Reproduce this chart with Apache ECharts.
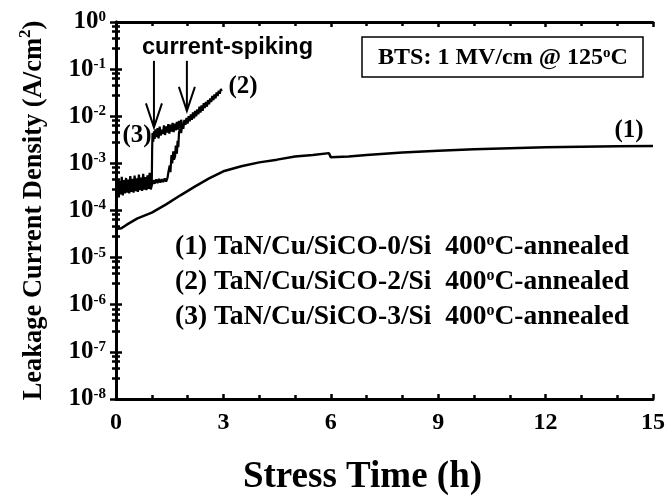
<!DOCTYPE html>
<html>
<head>
<meta charset="utf-8">
<script src="https://cdn.jsdelivr.net/npm/echarts@6/dist/echarts.min.js"></script>
<style>
html,body{margin:0;padding:0;background:#fff;}
#c{width:669px;height:501px;}
</style>
</head>
<body>
<div id="c"></div>
<script>
// ---- data (time in h, current density in A/cm^2) ----
var xTicks = [0, 3, 6, 9, 12, 15];
var yTickExps = [0, -1, -2, -3, -4, -5, -6, -7, -8];

var t1 = [0.05, 0.15, 0.3, 0.6, 1.0, 1.4, 1.8, 2.2, 2.6, 3.0, 3.5, 4.0, 4.5, 5.0, 5.5, 5.95, 6.0, 6.5, 7.0, 8.0, 9.0, 10.0, 11.0, 12.0, 13.0, 14.0, 15.0];
var j1 = [4.1e-5, 4.2e-5, 5.0e-5, 6.8e-5, 9.0e-5, 1.35e-4, 2.1e-4, 3.2e-4, 4.8e-4, 6.8e-4, 8.7e-4, 1.05e-3, 1.2e-3, 1.4e-3, 1.5e-3, 1.65e-3, 1.35e-3, 1.4e-3, 1.5e-3, 1.7e-3, 1.85e-3, 2.0e-3, 2.1e-3, 2.2e-3, 2.25e-3, 2.3e-3, 2.35e-3];

var t2 = [0.00, 0.02, 0.04, 0.06, 0.08, 0.10, 0.13, 0.16, 0.19, 0.22, 0.25, 0.28, 0.31, 0.34, 0.37, 0.40, 0.43, 0.46, 0.49, 0.52, 0.55, 0.58, 0.61, 0.64, 0.67, 0.70, 0.73, 0.76, 0.79, 0.82, 0.85, 0.88, 0.91, 0.94, 0.97, 1.00, 1.04, 1.08, 1.12, 1.16, 1.20, 1.24, 1.28, 1.32, 1.36, 1.40, 1.44, 1.47, 1.50, 1.52, 1.55, 1.57, 1.60, 1.62, 1.65, 1.67, 1.70, 1.72, 1.74, 1.76, 1.79, 1.82, 1.85, 1.88, 1.91, 1.94, 1.97, 2.00, 2.03, 2.06, 2.09, 2.12, 2.15, 2.18, 2.21, 2.24, 2.27, 2.30, 2.33, 2.36, 2.39, 2.42, 2.45, 2.48, 2.51, 2.54, 2.57, 2.60, 2.63, 2.66, 2.69, 2.72, 2.75, 2.78, 2.81, 2.84, 2.87, 2.90, 2.93, 2.95];
var j2 = [1.5e-4, 3.8e-4, 2.0e-4, 3.3e-4, 1.9e-4, 3.6e-4, 2.2e-4, 3.1e-4, 2.1e-4, 3.5e-4, 2.3e-4, 3.4e-4, 2.4e-4, 3.7e-4, 2.3e-4, 3.3e-4, 2.5e-4, 3.8e-4, 2.4e-4, 3.5e-4, 2.6e-4, 3.9e-4, 2.5e-4, 3.6e-4, 2.7e-4, 4.0e-4, 2.6e-4, 3.7e-4, 2.8e-4, 4.1e-4, 2.7e-4, 3.8e-4, 2.9e-4, 4.0e-4, 2.8e-4, 3.4e-4, 4.4e-4, 3.7e-4, 4.6e-4, 3.8e-4, 4.7e-4, 3.9e-4, 4.6e-4, 4.0e-4, 4.8e-4, 4.1e-4, 5.0e-4, 7.0e-4, 9.0e-4, 6.5e-4, 1.5e-3, 1.0e-3, 1.8e-3, 1.2e-3, 1.4e-3, 2.4e-3, 1.6e-3, 3.0e-3, 2.2e-3, 4.5e-3, 5.5e-3, 4.4e-3, 6.8e-3, 5.4e-3, 8.4e-3, 6.6e-3, 9.2e-3, 7.0e-3, 1.0e-2, 7.8e-3, 1.1e-2, 8.4e-3, 1.2e-2, 9.0e-3, 1.3e-2, 1.0e-2, 1.4e-2, 1.1e-2, 1.6e-2, 1.2e-2, 1.7e-2, 1.3e-2, 1.9e-2, 1.5e-2, 2.0e-2, 1.6e-2, 2.2e-2, 1.8e-2, 2.4e-2, 2.0e-2, 2.7e-2, 2.2e-2, 2.9e-2, 2.4e-2, 3.2e-2, 2.7e-2, 3.5e-2, 3.0e-2, 3.8e-2, 3.4e-2];

var t3 = [0.00, 0.02, 0.04, 0.06, 0.08, 0.10, 0.13, 0.16, 0.19, 0.22, 0.25, 0.28, 0.31, 0.34, 0.37, 0.40, 0.43, 0.46, 0.49, 0.52, 0.55, 0.58, 0.61, 0.64, 0.67, 0.70, 0.73, 0.76, 0.79, 0.82, 0.85, 0.88, 0.91, 0.94, 0.97, 1.00, 1.01, 1.02, 1.04, 1.06, 1.08, 1.10, 1.13, 1.16, 1.19, 1.22, 1.25, 1.28, 1.31, 1.34, 1.37, 1.40, 1.43, 1.46, 1.49, 1.52, 1.55, 1.58, 1.61, 1.64, 1.67, 1.70, 1.73, 1.76, 1.79, 1.82, 1.85];
var j3 = [1.2e-4, 5.0e-4, 2.4e-4, 4.6e-4, 2.2e-4, 4.2e-4, 2.6e-4, 5.2e-4, 2.5e-4, 4.4e-4, 2.8e-4, 4.9e-4, 2.7e-4, 4.5e-4, 3.0e-4, 5.4e-4, 2.9e-4, 4.7e-4, 3.1e-4, 5.5e-4, 3.0e-4, 4.8e-4, 3.2e-4, 5.8e-4, 3.1e-4, 5.0e-4, 3.3e-4, 6.0e-4, 3.2e-4, 5.1e-4, 3.4e-4, 5.6e-4, 3.5e-4, 6.3e-4, 3.6e-4, 4.5e-4, 2.0e-3, 4.4e-3, 2.9e-3, 4.8e-3, 3.3e-3, 5.3e-3, 3.6e-3, 5.6e-3, 3.4e-3, 6.0e-3, 3.9e-3, 5.2e-3, 4.2e-3, 6.4e-3, 4.0e-3, 6.1e-3, 4.5e-3, 6.8e-3, 4.3e-3, 6.6e-3, 4.7e-3, 7.2e-3, 4.6e-3, 7.0e-3, 5.0e-3, 7.6e-3, 5.2e-3, 8.0e-3, 5.6e-3, 8.4e-3, 6.4e-3];

// arrows: [time, from J, to J]
var arrowX = [1.06, 1.98];
var arrowFrom = [0.15, 0.15];
var arrowTo = [5.8e-3, 1.3e-2];

var seriesLabels = ['(1)', '(2)', '(3)'];
var legendLines = [
  ['(1) TaN/Cu/SiCO-0/Si  400', 'C-annealed'],
  ['(2) TaN/Cu/SiCO-2/Si  400', 'C-annealed'],
  ['(3) TaN/Cu/SiCO-3/Si  400', 'C-annealed']
];
var spikeText = 'current-spiking';
var btsText = ['BTS: 1 MV/cm @ 125', 'C'];

// ---- chart ----
function pairs(t, j) { return t.map(function (v, i) { return [v, j[i]]; }); }
var SERIF = '"Liberation Serif", "Times New Roman", serif';
var SANS = '"Liberation Sans", Arial, sans-serif';

var chart = echarts.init(document.getElementById('c'), null, {renderer: 'canvas'});

var axisLine = {show: true, lineStyle: {color: '#000', width: 3}};
var tickStyle = {color: '#000', width: 2.5};

var option = {
  animation: false,
  backgroundColor: '#fff',
  grid: {left: 116, right: 16, top: 22, bottom: 100, containLabel: false},
  xAxis: [{
    type: 'value', min: 0, max: 15, interval: 3,
    axisLine: axisLine,
    axisTick: {show: true, inside: true, length: 5, lineStyle: tickStyle},
    minorTick: {show: true, splitNumber: 3, length: 4, lineStyle: tickStyle},
    splitLine: {show: false},
    axisLabel: {
      color: '#000', fontFamily: SERIF, fontWeight: 'bold', fontSize: 24, margin: 12,
      formatter: function (v) { return xTicks.indexOf(v) >= 0 ? String(v) : ''; }
    },
    name: 'Stress Time (h)', nameLocation: 'middle', nameGap: 60,
    nameTextStyle: {color: '#000', fontFamily: SERIF, fontWeight: 'bold', fontSize: 37, padding: [0, 44, 0, 0]}
  }, {
    type: 'value', min: 0, max: 15, interval: 3, position: 'top',
    axisLine: axisLine,
    axisTick: {show: true, inside: true, length: 5, lineStyle: tickStyle},
    minorTick: {show: true, splitNumber: 3, length: 4, lineStyle: tickStyle},
    splitLine: {show: false}, axisLabel: {show: false}
  }],
  yAxis: [{
    type: 'log', logBase: 10, min: 1e-8, max: 1,
    axisLine: axisLine,
    axisTick: {show: true, inside: true, length: 6, lineStyle: tickStyle},
    minorTick: {show: true, splitNumber: 5, length: 4, lineStyle: tickStyle},
    splitLine: {show: false},
    axisLabel: {
      margin: 10,
      formatter: function (v) {
        var e = Math.round(Math.log(v) / Math.LN10);
        if (yTickExps.indexOf(e) < 0) return '';
        return '{b|10}{s|' + e + '}';
      },
      rich: {
        b: {color: '#000', fontFamily: SERIF, fontWeight: 'bold', fontSize: 25, verticalAlign: 'bottom'},
        s: {color: '#000', fontFamily: SERIF, fontWeight: 'bold', fontSize: 15, verticalAlign: 'top', padding: [0, 0, 8, 0]}
      }
    },
    name: '{t|Leakage Current Density (A/cm}{s|2}{t|)}', nameLocation: 'middle', nameGap: 68, nameRotate: 90,
    nameTextStyle: {
      rich: {
        t: {color: '#000', fontFamily: SERIF, fontWeight: 'bold', fontSize: 26.5, verticalAlign: 'bottom'},
        s: {color: '#000', fontFamily: SERIF, fontWeight: 'bold', fontSize: 17, verticalAlign: 'top', padding: [0, 0, 14, 0]}
      }
    }
  }, {
    type: 'log', logBase: 10, min: 1e-8, max: 1, position: 'right',
    axisLine: axisLine,
    axisTick: {show: true, inside: true, length: 6, lineStyle: tickStyle},
    minorTick: {show: true, splitNumber: 5, length: 4, lineStyle: tickStyle},
    splitLine: {show: false}, axisLabel: {show: false}
  }],
  series: [
    {type: 'line', data: pairs(t1, j1), showSymbol: false, lineStyle: {color: '#000', width: 2.5}, z: 3},
    {type: 'line', data: pairs(t2, j2), showSymbol: false, lineStyle: {color: '#000', width: 2.2}, z: 3},
    {type: 'line', data: pairs(t3, j3), showSymbol: false, lineStyle: {color: '#000', width: 2.2}, z: 3},
    {
      type: 'custom', z: 4,
      data: arrowX.map(function (x, i) { return [x, arrowFrom[i], arrowTo[i]]; }),
      renderItem: function (params, api) {
        var p0 = api.coord([api.value(0), api.value(1)]);
        var p1 = api.coord([api.value(0), api.value(2)]);
        var st = {stroke: '#000', lineWidth: 2, fill: null};
        return {type: 'group', children: [
          {type: 'line', shape: {x1: p0[0], y1: p0[1], x2: p1[0], y2: p1[1]}, style: st},
          {type: 'polyline', shape: {points: [[p1[0] - 8, p1[1] - 24], [p1[0], p1[1]], [p1[0] + 8, p1[1] - 24]]}, style: st}
        ]};
      }
    }
  ],
  graphic: [
    {type: 'text', left: 142, top: 36, style: {text: spikeText, fill: '#000', font: 'bold 23.5px ' + SANS}},
    {type: 'text', x: 243, y: 87, style: {text: seriesLabels[1], fill: '#000', font: 'bold 25px ' + SERIF, align: 'center', verticalAlign: 'middle'}},
    {type: 'text', x: 137, y: 136, style: {text: seriesLabels[2], fill: '#000', font: 'bold 25px ' + SERIF, align: 'center', verticalAlign: 'middle'}},
    {type: 'text', x: 629, y: 131, style: {text: seriesLabels[0], fill: '#000', font: 'bold 25px ' + SERIF, align: 'center', verticalAlign: 'middle'}},
    {type: 'rect', shape: {x: 362, y: 37, width: 281, height: 40}, style: {fill: '#fff', stroke: '#000', lineWidth: 1.5}},
    {type: 'text', x: 503, y: 58, style: {
      text: '{t|' + btsText[0] + '}{s|o}{t|' + btsText[1] + '}', align: 'center', verticalAlign: 'middle',
      rich: {t: {fill: '#000', font: 'bold 24px ' + SERIF, verticalAlign: 'bottom'}, s: {fill: '#000', font: 'bold 15px ' + SERIF, verticalAlign: 'top'}}
    }}
  ].concat(legendLines.map(function (ln, i) {
    return {type: 'text', x: 175, y: 247 + i * 35, style: {
      text: '{t|' + ln[0] + '}{s|o}{t|' + ln[1] + '}', verticalAlign: 'middle',
      rich: {t: {fill: '#000', font: 'bold 27.5px ' + SERIF, verticalAlign: 'bottom'}, s: {fill: '#000', font: 'bold 16px ' + SERIF, verticalAlign: 'top'}}
    }};
  }))
};
chart.setOption(option);
</script>
</body>
</html>
